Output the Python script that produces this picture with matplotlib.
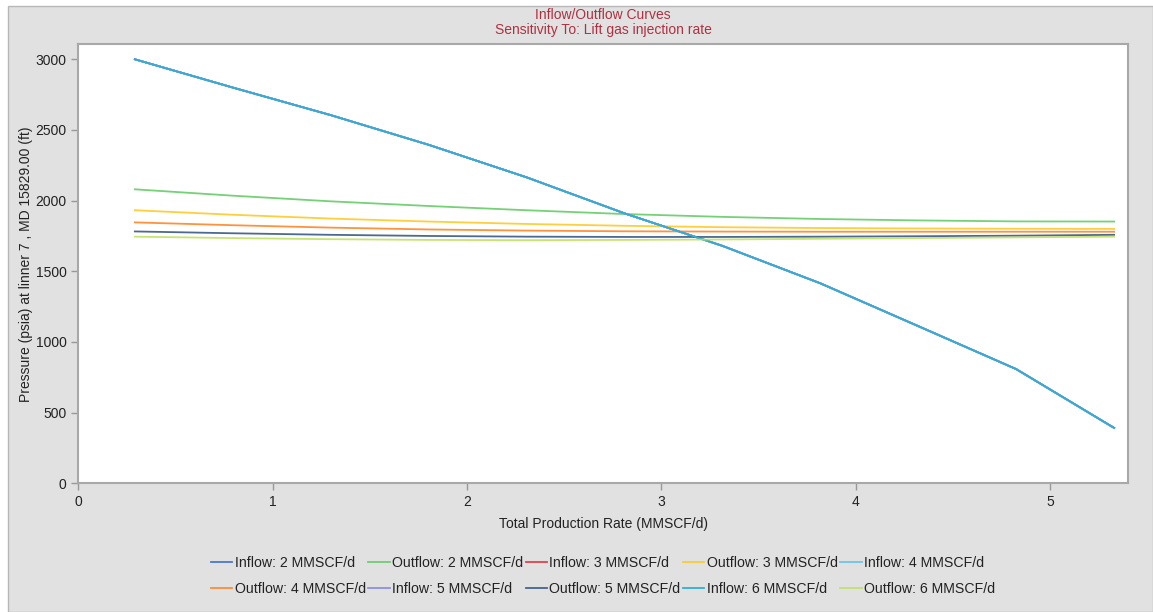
import matplotlib
matplotlib.use("Agg")
import matplotlib.pyplot as plt

# total production rate (MMSCF/d), shared by all curves
rate = [0.29, 0.794, 1.298, 1.802, 2.306, 2.81, 3.314, 3.818, 4.322, 4.826, 5.33]

# inflow curve (same for every lift gas rate)
inflow = [3000, 2800, 2605, 2395, 2165, 1910, 1680, 1415, 1112, 808, 392]

# outflow curves per lift gas injection rate
outflow_2 = [2080, 2035, 1995, 1962, 1932, 1905, 1885, 1870, 1860, 1853, 1852]
outflow_3 = [1932, 1900, 1873, 1852, 1835, 1822, 1812, 1806, 1803, 1801, 1800]
outflow_4 = [1846, 1826, 1809, 1796, 1788, 1783, 1781, 1780, 1780, 1780, 1780]
outflow_5 = [1782, 1769, 1758, 1750, 1745, 1743, 1743, 1745, 1748, 1752, 1758]
outflow_6 = [1745, 1735, 1727, 1722, 1720, 1722, 1725, 1730, 1735, 1740, 1745]

gas_rates = [2, 3, 4, 5, 6]
outflows = [outflow_2, outflow_3, outflow_4, outflow_5, outflow_6]
inflow_colors = ["#4a78d0", "#e8404a", "#6cc4f0", "#9090e0", "#2cb0d8"]
outflow_colors = ["#5dc95d", "#ffc61a", "#ff7f1a", "#2c4f80", "#bce05a"]

bg = "#e1e1e1"
fig = plt.figure(figsize=(11.53, 6.12), dpi=100)
fig.patch.set_facecolor("white")
# gray panel behind the chart
panel = plt.Rectangle((8 / 1153, 0), 1 - 8 / 1153, 1 - 6 / 612, transform=fig.transFigure,
                      facecolor=bg, edgecolor="#b8b8b8", lw=1, zorder=-10)
fig.patches.append(panel)

ax = fig.add_axes([78.5 / 1153, 1 - 483.3 / 612, (1127.7 - 78.5) / 1153, (483.3 - 44.3) / 612])
ax.set_facecolor("white")

handles = []
for g, inf_c, out_c, outf in zip(gas_rates, inflow_colors, outflow_colors, outflows):
    h1, = ax.plot(rate, inflow, color=inf_c, lw=1.3, label=f"Inflow: {g} MMSCF/d")
    h2, = ax.plot(rate, outf, color=out_c, lw=1.3, alpha=0.85, label=f"Outflow: {g} MMSCF/d")
    handles += [h1, h2]

ax.set_xlim(0, 5.40)
ax.set_ylim(0, 3106)
ax.set_xticks([0, 1, 2, 3, 4, 5])
ax.set_yticks([0, 500, 1000, 1500, 2000, 2500, 3000])

font = "Liberation Sans"
for s in ax.spines.values():
    s.set_color("#a8a8a8")
    s.set_linewidth(1.5)
ax.tick_params(colors="#999999", labelcolor="#222222", length=5, width=1, labelsize=10)
for lab in ax.get_xticklabels() + ax.get_yticklabels():
    lab.set_fontfamily(font)

ax.set_xlabel("Total Production Rate (MMSCF/d)", fontsize=10, family=font, color="#222222", labelpad=6)
ax.set_ylabel("Pressure (psia) at linner 7 , MD 15829.00 (ft)", fontsize=10, family=font,
              color="#222222", labelpad=2)

title_font = ["Liberation Sans Narrow", "Liberation Sans"]
fig.text(603 / 1153, 1 - 15 / 612, "Inflow/Outflow Curves", ha="center", va="center",
         fontsize=10, family=title_font, color="#b03040")
fig.text(603 / 1153, 1 - 30 / 612, "Sensitivity To: Lift gas injection rate", ha="center",
         va="center", fontsize=10, family=title_font, color="#b03040")

# legend is filled row by row in the reference; matplotlib fills by column
order = []
for col in range(5):
    order += [col, col + 5]
leg = fig.legend([handles[i] for i in order], [handles[i].get_label() for i in order],
                 loc="center", bbox_to_anchor=(603 / 1153, 1 - 576 / 612), ncol=5,
                 frameon=False, handlelength=1.5, handletextpad=0.15,
                 columnspacing=0.2, labelspacing=0.8, prop={"family": font, "size": 10.2})
for t in leg.get_texts():
    t.set_color("#222222")

fig.savefig("out.png", dpi=100, facecolor=fig.get_facecolor())
